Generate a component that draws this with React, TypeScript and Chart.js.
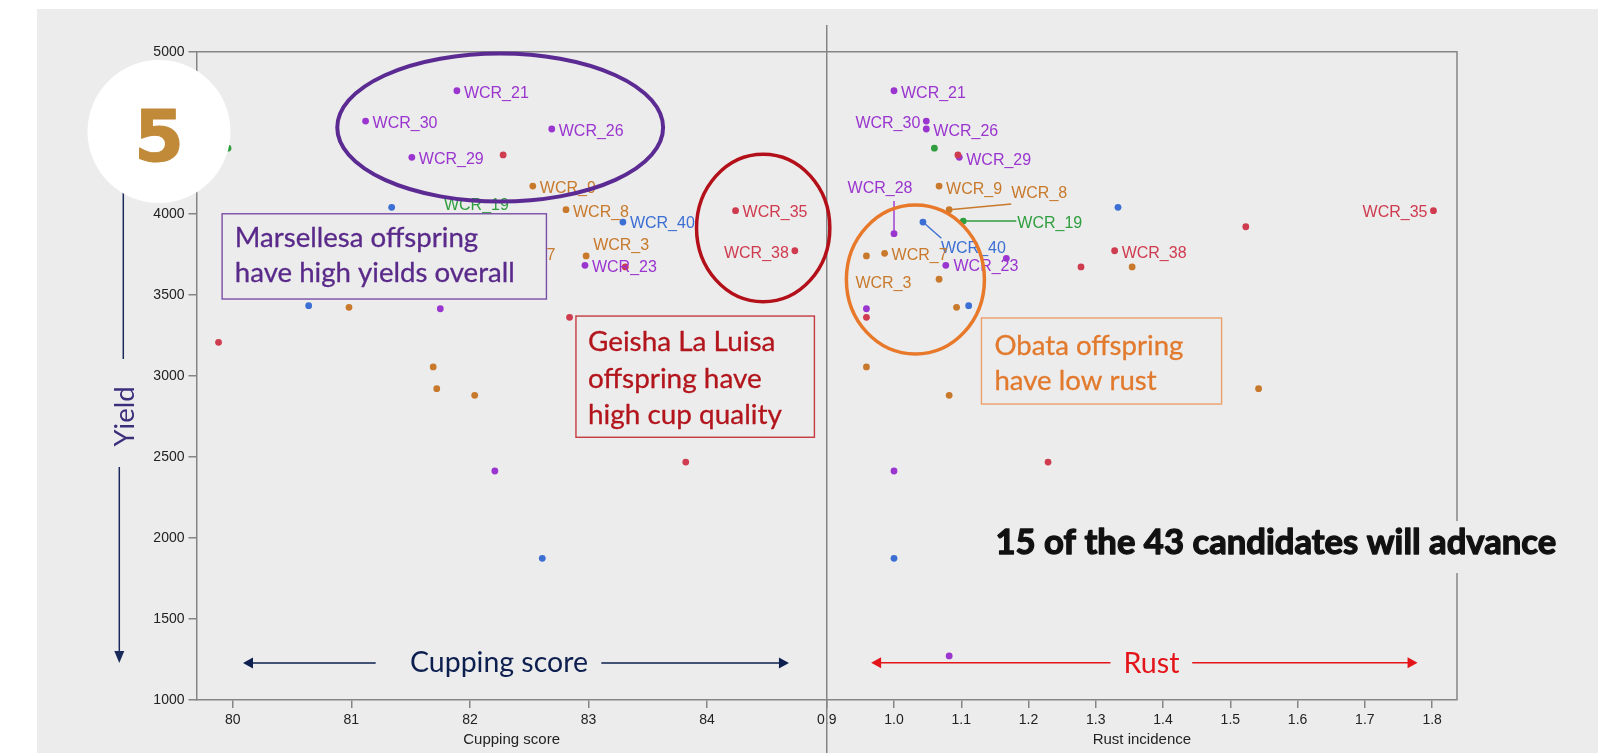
import React, { useEffect, useRef } from 'react';
import { Chart, registerables } from 'chart.js';

Chart.register(...registerables);

// ---------------- DATA ----------------
const candidateNames = ['WCR_21', 'WCR_30', 'WCR_26', 'WCR_29', '', '', 'WCR_9', 'WCR_8', 'WCR_19', 'WCR_40', 'WCR_28', 'WCR_3', 'WCR_7', 'WCR_23', '', '', 'WCR_38', '', '', '', '', '', '', '', 'WCR_35', '', '', '', '', '', '', '', '', ''];
const parentGroups = ['purple', 'purple', 'purple', 'purple', 'green', 'red', 'orange', 'orange', 'green', 'blue', 'purple', 'orange', 'orange', 'purple', 'purple', 'red', 'red', 'orange', 'blue', 'orange', 'purple', 'red', 'orange', 'blue', 'red', 'red', 'red', 'orange', 'orange', 'orange', 'purple', 'red', 'blue', 'purple'];
const yieldValues = [4759, 4572, 4523, 4348, 4405, 4363, 4171, 4025, 3955, 3949, 3877, 3740, 3756, 3682, 3725, 3672, 3772, 3672, 4040, 3596, 3414, 3361, 3423, 3433, 4019, 3920, 3207, 3055, 2921, 2880, 2413, 2468, 1874, 1272];
const cuppingScores = [81.89, 81.12, 82.69, 81.51, 79.96, 82.28, 82.53, 82.81, 81.73, 83.29, 81.4, 82.98, 82.19, 82.97, 81.0, 83.31, 84.74, 80.6, 81.34, 81.9, 81.75, 82.84, 80.98, 80.64, 84.24, 80.3, 79.88, 81.69, 81.72, 82.04, 82.21, 83.82, 82.61, null];
const rustIncidence = [1.0, 1.048, 1.048, 1.097, 1.06, 1.095, 1.067, 1.082, 1.103, 1.043, 1.0, 0.959, 0.986, 1.077, 1.167, 1.278, 1.328, 1.354, 1.333, 1.067, 0.959, 0.959, 1.093, 1.111, 1.802, 1.523, 1.3, 0.959, 1.542, 1.082, 1.0, 1.229, 1.0, 1.082];

const yTicks = [1000, 1500, 2000, 2500, 3000, 3500, 4000, 4500, 5000];
const cuppingTicks = [80, 81, 82, 83, 84];
const rustTicks = [0.9, 1.0, 1.1, 1.2, 1.3, 1.4, 1.5, 1.6, 1.7, 1.8];

// ---------------- STYLE ----------------
const GROUP_COLORS: Record<string, string> = {
  purple: '#9a35cf',
  green: '#2f9e3f',
  orange: '#c8792c',
  blue: '#3b6fd4',
  red: '#cf3b4f',
};
const GROUP_ORDER = ['orange', 'blue', 'green', 'red', 'purple'];
const BG = '#ececec';
const AXIS = '#858585';
const LABEL_FONT = '16px "Liberation Sans", Arial, sans-serif';
const NOTE_FAMILY = 'Lato, "Open Sans", sans-serif';

type LabelStyle = { dx: number; dy: number; align?: CanvasTextAlign; lead?: [number, number] };
const cuppingLabelStyle: Record<string, LabelStyle> = {
  WCR_21: { dx: 7, dy: 7 }, WCR_30: { dx: 7, dy: 7 }, WCR_26: { dx: 7, dy: 7 }, WCR_29: { dx: 7, dy: 7 },
  WCR_9: { dx: 7, dy: 7 }, WCR_8: { dx: 7, dy: 7 }, WCR_40: { dx: 7, dy: 6 }, WCR_19: { dx: 6, dy: -11 },
  WCR_3: { dx: 7, dy: -6 }, WCR_7: { dx: 7, dy: 7 }, WCR_23: { dx: 7, dy: 7 }, WCR_35: { dx: 7, dy: 6.5 },
  WCR_38: { dx: -6, dy: 7, align: 'right' },
};
const rustLabelStyle: Record<string, LabelStyle> = {
  WCR_21: { dx: 7, dy: 7 }, WCR_30: { dx: -6, dy: 7, align: 'right' }, WCR_26: { dx: 7, dy: 7 },
  WCR_29: { dx: 7, dy: 7.5 }, WCR_9: { dx: 7, dy: 8 },
  WCR_8: { dx: 62, dy: -11.5, lead: [62, -5.7] },
  WCR_19: { dx: 54, dy: 7, lead: [53, 0] },
  WCR_40: { dx: 18, dy: 31, lead: [18.4, 16.3] },
  WCR_28: { dx: -14, dy: -40.5, align: 'center', lead: [0, -32.7] },
  WCR_7: { dx: 7, dy: 6.5 }, WCR_3: { dx: -11, dy: 32 }, WCR_23: { dx: 7.7, dy: 6 },
  WCR_38: { dx: 7, dy: 7 }, WCR_35: { dx: -6, dy: 6, align: 'right' },
};

// annotation shapes, placed in data units
const ellipses = [
  { axis: 'xc', cx: 82.255, cy: 4532, rx: 1.374, ry: 456.6, color: '#5b2a92', width: 4 },
  { axis: 'xc', cx: 84.473, cy: 3912, rx: 0.562, ry: 455, color: '#b3101a', width: 3.5 },
  { axis: 'xr', cx: 1.0318, cy: 3594.5, rx: 0.1026, ry: 459.6, color: '#e8792b', width: 3.5 },
];
const noteBoxes = [
  { axis: 'xc', x0: 79.91, x1: 82.645, y0: 4000, y1: 3474, border: '#7b4ea6', color: '#5a2a8a', lines: ['Marsellesa offspring', 'have high yields overall'], fitIndex: 1, fitWidth: 280, padX: 12.7, baselines: [33.6, 68.6] },
  { axis: 'xc', x0: 82.894, x1: 84.905, y0: 3369, y1: 2621, border: '#c53a3f', color: '#b3151c', lines: ['Geisha La Luisa', 'offspring have', 'high cup quality'], fitIndex: 2, fitWidth: 194, padX: 12, baselines: [35, 71.5, 108] },
  { axis: 'xr', x0: 1.13, x1: 1.487, y0: 3357, y1: 2826, border: '#eba06a', color: '#e27a2e', lines: ['Obata offspring', 'have low rust'], fitIndex: 0, fitWidth: 189, padX: 13, baselines: [37, 72] },
];
const axisArrows = [
  { axis: 'xc', text: 'Cupping score', color: '#0d1f4f', y: 1228, tipL: 80.086, endL: 81.205, startR: 83.108, tipR: 84.69, textX: 82.245, textY: 1173, textW: 178 },
  { axis: 'xr', text: 'Rust', color: '#e3151b', y: 1230, tipL: 0.966, endL: 1.3218, startR: 1.4433, tipR: 1.7784, textX: 1.3828, textY: 1166, textW: 56 },
];
const headline = { axis: 'xr', text: '15 of the 43 candidates will advance', x: 1.1508, y: 1901, width: 563 };

function fitSize(ctx: CanvasRenderingContext2D, text: string, weight: string, family: string, target: number) {
  ctx.font = `${weight} 100px ${family}`;
  const w = ctx.measureText(text).width;
  return (100 * target) / w;
}

function arrowHead(ctx: CanvasRenderingContext2D, x: number, y: number, dirX: number, dirY: number, len: number, half: number) {
  const bx = x - dirX * len;
  const by = y - dirY * len;
  ctx.beginPath();
  ctx.moveTo(x, y);
  ctx.lineTo(bx - dirY * half, by + dirX * half);
  ctx.lineTo(bx + dirY * half, by - dirX * half);
  ctx.closePath();
  ctx.fill();
}

const decorPlugin = {
  id: 'decor',
  beforeDraw(chart: any) {
    const ctx = chart.ctx as CanvasRenderingContext2D;
    ctx.save();
    ctx.fillStyle = '#ffffff';
    ctx.fillRect(0, 0, chart.width, chart.height);
    ctx.fillStyle = BG;
    ctx.fillRect(37, 9, 1561, chart.height - 9);
    ctx.restore();
  },
  beforeDatasetsDraw(chart: any) {
    const ctx = chart.ctx as CanvasRenderingContext2D;
    const { left, right, top, bottom } = chart.chartArea;
    const divX = chart.scales.xc.right;
    ctx.save();
    ctx.strokeStyle = AXIS;
    ctx.lineWidth = 1.5;
    ctx.beginPath();
    ctx.moveTo(left, top);
    ctx.lineTo(right, top);
    ctx.lineTo(right, bottom);
    ctx.stroke();
    ctx.beginPath();
    ctx.moveTo(divX, 25);
    ctx.lineTo(divX, chart.height);
    ctx.stroke();
    ctx.restore();
  },
  afterDatasetsDraw(chart: any) {
    const ctx = chart.ctx as CanvasRenderingContext2D;
    const ys = chart.scales.y;
    const panels = [
      { scale: chart.scales.xc, values: cuppingScores, styles: cuppingLabelStyle },
      { scale: chart.scales.xr, values: rustIncidence, styles: rustLabelStyle },
    ];
    ctx.save();
    ctx.font = LABEL_FONT;
    ctx.textBaseline = 'alphabetic';
    for (const p of panels) {
      candidateNames.forEach((name, i) => {
        const st = p.styles[name];
        const v = p.values[i];
        if (!name || !st || v == null) return;
        const px = p.scale.getPixelForValue(v);
        const py = ys.getPixelForValue(yieldValues[i]);
        const color = GROUP_COLORS[parentGroups[i]];
        if (st.lead) {
          const [lx, ly] = st.lead;
          const d = Math.hypot(lx, ly) || 1;
          ctx.strokeStyle = color;
          ctx.lineWidth = 1.4;
          ctx.beginPath();
          ctx.moveTo(px + (lx / d) * 3, py + (ly / d) * 3);
          ctx.lineTo(px + lx, py + ly);
          ctx.stroke();
        }
        ctx.fillStyle = color;
        ctx.textAlign = st.align || 'left';
        ctx.fillText(name, px + st.dx, py + st.dy);
      });
    }
    ctx.restore();
  },
  afterDraw(chart: any) {
    const ctx = chart.ctx as CanvasRenderingContext2D;
    const ys = chart.scales.y;
    ctx.save();

    // ellipses
    for (const e of ellipses) {
      const xs = chart.scales[e.axis];
      const cx = xs.getPixelForValue(e.cx);
      const cy = ys.getPixelForValue(e.cy);
      const rx = Math.abs(xs.getPixelForValue(e.cx + e.rx) - cx);
      const ry = Math.abs(ys.getPixelForValue(e.cy + e.ry) - cy);
      ctx.strokeStyle = e.color;
      ctx.lineWidth = e.width;
      ctx.beginPath();
      ctx.ellipse(cx, cy, rx, ry, 0, 0, Math.PI * 2);
      ctx.stroke();
    }

    // note boxes
    for (const b of noteBoxes) {
      const xs = chart.scales[b.axis];
      const x0 = xs.getPixelForValue(b.x0);
      const x1 = xs.getPixelForValue(b.x1);
      const y0 = ys.getPixelForValue(b.y0);
      const y1 = ys.getPixelForValue(b.y1);
      ctx.fillStyle = BG;
      ctx.fillRect(x0, y0, x1 - x0, y1 - y0);
      ctx.strokeStyle = b.border;
      ctx.lineWidth = 1.4;
      ctx.strokeRect(x0, y0, x1 - x0, y1 - y0);
      const size = fitSize(ctx, b.lines[b.fitIndex], 'normal', NOTE_FAMILY, b.fitWidth);
      ctx.font = `normal ${size}px ${NOTE_FAMILY}`;
      ctx.fillStyle = b.color;
      ctx.strokeStyle = b.color;
      ctx.lineWidth = 0.3;
      ctx.textAlign = 'left';
      ctx.textBaseline = 'alphabetic';
      b.lines.forEach((ln, k) => {
        ctx.fillText(ln, x0 + b.padX, y0 + b.baselines[k]);
        ctx.strokeText(ln, x0 + b.padX, y0 + b.baselines[k]);
      });
    }

    // axis direction arrows
    for (const a of axisArrows) {
      const xs = chart.scales[a.axis];
      const y = ys.getPixelForValue(a.y);
      const tl = xs.getPixelForValue(a.tipL);
      const el = xs.getPixelForValue(a.endL);
      const sr = xs.getPixelForValue(a.startR);
      const tr = xs.getPixelForValue(a.tipR);
      ctx.strokeStyle = a.color;
      ctx.fillStyle = a.color;
      ctx.lineWidth = 1.6;
      ctx.beginPath();
      ctx.moveTo(tl + 6, y);
      ctx.lineTo(el, y);
      ctx.moveTo(sr, y);
      ctx.lineTo(tr - 6, y);
      ctx.stroke();
      arrowHead(ctx, tl, y, -1, 0, 10, 5.5);
      arrowHead(ctx, tr, y, 1, 0, 10, 5.5);
      const size = fitSize(ctx, a.text, 'normal', NOTE_FAMILY, a.textW);
      ctx.font = `normal ${size}px ${NOTE_FAMILY}`;
      ctx.textAlign = 'center';
      ctx.textBaseline = 'alphabetic';
      ctx.fillText(a.text, xs.getPixelForValue(a.textX), ys.getPixelForValue(a.textY));
    }

    // headline
    {
      const xs = chart.scales[headline.axis];
      const hx = xs.getPixelForValue(headline.x);
      const hy = ys.getPixelForValue(headline.y);
      const size = fitSize(ctx, headline.text, 'bold', NOTE_FAMILY, headline.width - 2);
      ctx.fillStyle = BG;
      ctx.fillRect(hx - 6, hy - size * 0.95, headline.width + 12, size * 1.5);
      ctx.font = `bold ${size}px ${NOTE_FAMILY}`;
      ctx.fillStyle = '#111111';
      ctx.strokeStyle = '#111111';
      ctx.lineWidth = 1.3;
      ctx.lineJoin = 'round';
      ctx.textAlign = 'left';
      ctx.textBaseline = 'alphabetic';
      ctx.fillText(headline.text, hx, hy);
      ctx.strokeText(headline.text, hx, hy);
    }

    // yield axis arrow and title
    ctx.strokeStyle = '#1b2a5c';
    ctx.fillStyle = '#1b2a5c';
    ctx.lineWidth = 1.5;
    ctx.beginPath();
    ctx.moveTo(123.3, 150);
    ctx.lineTo(123.3, 359);
    ctx.moveTo(119.3, 467);
    ctx.lineTo(119.3, 652);
    ctx.stroke();
    arrowHead(ctx, 119.3, 663, 0, 1, 12, 5);
    {
      const size = fitSize(ctx, 'Yield', 'normal', NOTE_FAMILY, 60);
      ctx.save();
      ctx.translate(134, 416.5);
      ctx.rotate(-Math.PI / 2);
      ctx.font = `normal ${size}px ${NOTE_FAMILY}`;
      ctx.fillStyle = '#3d2e7c';
      ctx.textAlign = 'center';
      ctx.textBaseline = 'alphabetic';
      ctx.fillText('Yield', 0, 0);
      ctx.restore();
    }

    // step badge
    ctx.fillStyle = '#ffffff';
    ctx.beginPath();
    ctx.arc(159, 131.5, 71.5, 0, Math.PI * 2);
    ctx.fill();
    ctx.font = 'bold 72px "DejaVu Sans", "Open Sans", sans-serif';
    ctx.fillStyle = '#c08a38';
    ctx.strokeStyle = '#c08a38';
    ctx.lineWidth = 1;
    ctx.lineJoin = 'round';
    ctx.textAlign = 'center';
    ctx.textBaseline = 'alphabetic';
    ctx.fillText('5', 159, 160.6);
    ctx.strokeText('5', 159, 160.6);

    ctx.restore();
  },
};

function buildDatasets() {
  const sets: any[] = [];
  for (const g of GROUP_ORDER) {
    const left: any[] = [];
    const right: any[] = [];
    parentGroups.forEach((pg, i) => {
      if (pg !== g) return;
      if (cuppingScores[i] != null) left.push({ x: cuppingScores[i], y: yieldValues[i] });
      if (rustIncidence[i] != null) right.push({ x: rustIncidence[i], y: yieldValues[i] });
    });
    const style = {
      backgroundColor: GROUP_COLORS[g],
      borderColor: GROUP_COLORS[g],
      borderWidth: 0,
      pointRadius: 3.4,
      pointHoverRadius: 3.4,
      showLine: false,
    };
    sets.push({ label: g + ' cupping', data: left, xAxisID: 'xc', yAxisID: 'y', ...style });
    sets.push({ label: g + ' rust', data: right, xAxisID: 'xr', yAxisID: 'y', ...style });
  }
  return sets;
}

const tickFont = { family: '"Liberation Sans", Arial, sans-serif', size: 14 };
const titleFont = { family: '"Liberation Sans", Arial, sans-serif', size: 15 };
const gridStyle = { drawOnChartArea: false, drawTicks: true, tickLength: 8, color: AXIS, lineWidth: 1.5 };
const borderStyle = { color: AXIS, width: 1.5 };
const Y_WIDTH = 60;
const X_HEIGHT = 53;

export default function App() {
  const ref = useRef<HTMLCanvasElement>(null);
  useEffect(() => {
    if (!ref.current) return;
    const chart = new Chart(ref.current, {
      type: 'scatter',
      data: { datasets: buildDatasets() },
      plugins: [decorPlugin],
      options: {
        responsive: false,
        animation: false,
        events: [],
        layout: { padding: { left: 196.5 - Y_WIDTH, top: 51.7, right: 158, bottom: 0 } },
        plugins: { legend: { display: false }, tooltip: { enabled: false } },
        scales: {
          y: {
            type: 'linear',
            position: 'left',
            min: 1000,
            max: 5000,
            afterBuildTicks: (s: any) => { s.ticks = yTicks.map((v) => ({ value: v })); },
            afterFit: (s: any) => { s.width = Y_WIDTH; },
            grid: gridStyle,
            border: borderStyle,
            ticks: { font: tickFont, color: '#222222', padding: 4, callback: (v: any) => String(v) },
          },
          xc: {
            type: 'linear',
            position: 'bottom',
            stack: 'xpanels',
            stackWeight: 1,
            min: 79.694,
            max: 85.009,
            afterBuildTicks: (s: any) => { s.ticks = cuppingTicks.map((v) => ({ value: v })); },
            afterFit: (s: any) => { s.height = X_HEIGHT; },
            grid: gridStyle,
            border: borderStyle,
            ticks: { font: tickFont, color: '#222222', padding: 4, maxRotation: 0, callback: (v: any) => String(v) },
            title: { display: true, text: 'Cupping score', font: titleFont, color: '#222222', padding: { top: 0, bottom: 4 } },
          },
          xr: {
            type: 'linear',
            position: 'bottom',
            stack: 'xpanels',
            stackWeight: 1,
            min: 0.9,
            max: 1.837,
            afterBuildTicks: (s: any) => { s.ticks = rustTicks.map((v) => ({ value: v })); },
            afterFit: (s: any) => { s.height = X_HEIGHT; },
            grid: gridStyle,
            border: borderStyle,
            ticks: { font: tickFont, color: '#222222', padding: 4, maxRotation: 0, callback: (v: any) => Number(v).toFixed(1) },
            title: { display: true, text: 'Rust incidence', font: titleFont, color: '#222222', padding: { top: 0, bottom: 4 } },
          },
        },
      } as any,
    });
    return () => chart.destroy();
  }, []);
  return (
    <div style={{ position: 'fixed', left: 0, top: 0, width: 1615, height: 753 }}>
      <canvas ref={ref} width={1615} height={753} style={{ display: 'block', width: 1615, height: 753 }} />
    </div>
  );
}
